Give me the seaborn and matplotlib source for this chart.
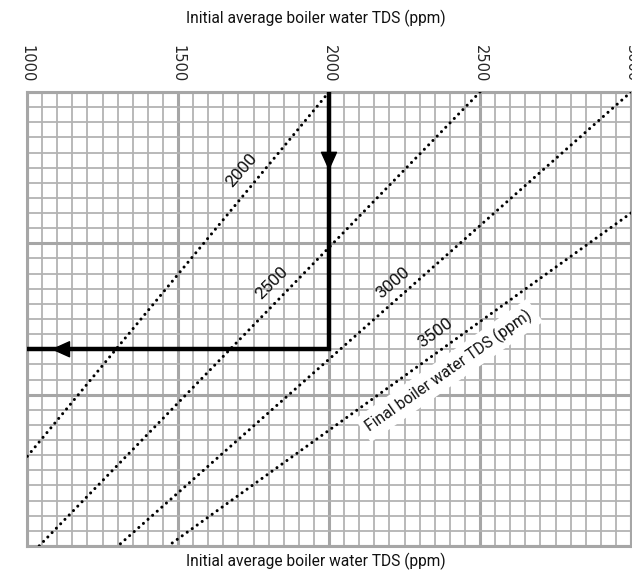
import matplotlib
matplotlib.use('Agg')
import matplotlib.pyplot as plt
import seaborn as sns
import numpy as np
import pandas as pd
from matplotlib.patches import FancyArrowPatch

# initial average boiler water TDS (x axis, ppm)
initial_ticks = [1000, 1500, 2000, 2500, 3000]
initial_minor_step = 50

# chart height in grid squares (no scale printed)
chart_rows = 30

# final boiler water TDS lines: end points
final_tds = ['2000', '2500', '3000', '3500']
final_x = [[2000, 1000], [2500, 1040], [3000, 1301], [3000, 1467]]
final_y = [[30, 5.9], [30, 0], [30, 0], [22.0, 0]]

# label placement along each line (x, y, angle)
label_x = [1712, 1811, 2212, 2351]
label_y = [24.85, 17.4, 17.4, 14.1]
label_angle = [49, 45, 41, 36]

# worked example path
path_x = [2000, 2000, 1000]
path_y = [30, 13, 13]
arrow_tips = [(2000, 24.8), (1080, 13)]
arrow_tails = [(2000, 26.6), (1200, 13)]

axis_title = 'Initial average boiler water TDS (ppm)'
lines_title = 'Final boiler water TDS (ppm)'


def main():
    sns.set_style('white')
    plt.rcParams['font.family'] = ['Roboto', 'DejaVu Sans']

    fig = plt.figure(figsize=(6.32, 5.74), dpi=100)
    ax = fig.add_axes([27 / 632, 1 - 546 / 574, 604 / 632, 454 / 574])

    grid_col = '#b3b3b3'
    ax.set_xlim(initial_ticks[0], initial_ticks[-1])
    ax.set_ylim(0, chart_rows)
    ax.set_xticks(initial_ticks)
    ax.set_xticks(np.arange(initial_ticks[0], initial_ticks[-1] + 1, initial_minor_step), minor=True)
    ax.set_yticks(np.arange(0, chart_rows + 1, 10))
    ax.set_yticks(np.arange(0, chart_rows + 1, 1), minor=True)
    ax.grid(which='minor', color=grid_col, lw=1.3)
    ax.grid(which='major', color='#a6a6a6', lw=2.2)
    ax.set_axisbelow(True)
    for s in ax.spines.values():
        s.set_color('#a6a6a6')
        s.set_linewidth(2.2)

    ax.xaxis.tick_top()
    ax.tick_params(axis='x', which='both', length=0, pad=7, labelsize=10.5, rotation=-90)
    for lab in ax.get_xticklabels():
        lab.set_fontfamily('DejaVu Sans')
    ax.tick_params(axis='y', which='both', length=0, labelleft=False)

    for xs, ys in zip(final_x, final_y):
        df = pd.DataFrame({'x': xs, 'y': ys})
        sns.lineplot(data=df, x='x', y='y', ax=ax, color='black', lw=2.2,
                     linestyle=(0, (0.01, 2.0)), dash_capstyle='round', sort=False,
                     estimator=None, zorder=3)

    for txt, x, y, a in zip(final_tds, label_x, label_y, label_angle):
        ax.text(x, y, txt, rotation=a, rotation_mode='anchor', ha='center', va='center',
                fontsize=12.5, color='#111111', zorder=4)

    ax.text(2397, 11.6, lines_title, rotation=35, rotation_mode='anchor', ha='center',
            va='center', fontsize=11.3, color='#111111', zorder=4,
            bbox=dict(facecolor='white', edgecolor='none', pad=4))

    path = pd.DataFrame({'x': path_x, 'y': path_y})
    sns.lineplot(data=path, x='x', y='y', ax=ax, color='black', lw=3.2, sort=False,
                 estimator=None, zorder=5)
    ax.lines[-1].set_solid_joinstyle('miter')
    for tip, tail in zip(arrow_tips, arrow_tails):
        arr = FancyArrowPatch(tail, tip, arrowstyle='-|>,head_length=0.6,head_width=0.27',
                              mutation_scale=20, color='black', lw=1, shrinkA=0, shrinkB=0,
                              zorder=6)
        ax.add_patch(arr)

    ax.set_xlabel('')
    ax.set_ylabel('')

    fig.text(0.5, 1 - 18 / 574, axis_title, ha='center', va='center', fontsize=11.2, color='#111111')
    fig.text(0.5, 1 - 561 / 574, axis_title, ha='center', va='center', fontsize=11.2, color='#111111')

    fig.savefig('out.png', dpi=100)
    plt.close()


if __name__ == '__main__':
    main()
